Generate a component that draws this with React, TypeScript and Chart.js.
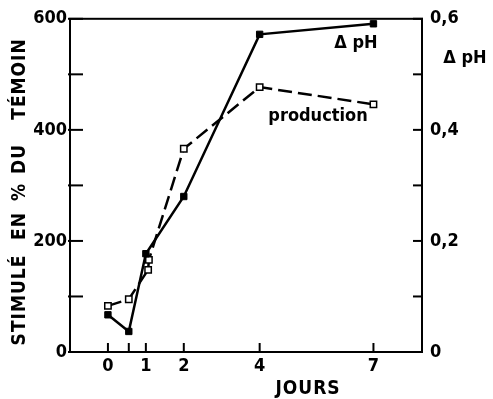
import React, { useEffect, useRef } from "react";
import { Chart, registerables } from "chart.js";

Chart.register(...registerables);

// Data
const phDays = [0, 0.55, 1, 2, 4, 7];
const deltaPH = [0.067, 0.037, 0.177, 0.28, 0.572, 0.591];
const prodDays = [0, 0.55, 1.06, 1.08, 2, 4, 7];
const production = [83, 95, 148, 166, 366, 477, 446];

const xTickLabels = [0, 1, 2, 4, 7];
const xTickMarks = [0, 0.55, 1, 2, 4, 7];
const leftTickMarks = [0, 100, 200, 300, 400, 500, 600];
const rightTickMarks = [0, 0.1, 0.2, 0.3, 0.4, 0.5, 0.6];
const yTitleWords = ["STIMULÉ", "EN", "%", "DU", "TÉMOIN"];

const FONT = '"DejaVu Sans Condensed", "DejaVu Sans", sans-serif';

const framePlugin = {
  id: "frame",
  afterDraw(chart: any) {
    const { ctx, chartArea, scales } = chart;
    const { left, right, top, bottom } = chartArea;
    ctx.save();
    ctx.strokeStyle = "#000";
    ctx.lineWidth = 2;
    ctx.strokeRect(left, top, right - left, bottom - top);
    ctx.lineWidth = 2;
    const line = (x1: number, y1: number, x2: number, y2: number) => {
      ctx.beginPath();
      ctx.moveTo(x1, y1);
      ctx.lineTo(x2, y2);
      ctx.stroke();
    };
    leftTickMarks.forEach((v) => {
      const y = scales.y.getPixelForValue(v);
      line(left - 2, y, left + 13, y);
    });
    rightTickMarks.forEach((v) => {
      const y = scales.y2.getPixelForValue(v);
      line(right - 9, y, right + 1, y);
    });
    xTickMarks.forEach((v) => {
      const x = scales.x.getPixelForValue(v);
      line(x, bottom, x, bottom - 9);
    });

    ctx.fillStyle = "#000";
    ctx.textAlign = "center";
    ctx.textBaseline = "middle";
    ctx.font = `bold 19px ${FONT}`;
    (ctx as any).letterSpacing = "1px";
    ctx.fillText("JOURS", 308, 389);
    (ctx as any).letterSpacing = "0px";
    ctx.font = `bold 18px ${FONT}`;
    ctx.fillText("Δ pH", 465, 58);
    ctx.fillText("Δ pH", 356, 43);
    ctx.fillText("production", 318, 116);

    // rotated y title, word by word
    const centers = [300, 226, 192, 159, 79];
    ctx.font = `bold 19px ${FONT}`;
    (ctx as any).letterSpacing = "1px";
    yTitleWords.forEach((w, i) => {
      ctx.save();
      ctx.translate(20, centers[i]);
      ctx.rotate(-Math.PI / 2);
      ctx.fillText(w, 0, 0);
      ctx.restore();
    });
    ctx.restore();
  },
};

export default function App() {
  const ref = useRef<HTMLCanvasElement>(null);
  useEffect(() => {
    if (!ref.current) return;
    const chart = new Chart(ref.current, {
      type: "line",
      data: {
        datasets: [
          {
            label: "Δ pH",
            data: phDays.map((d, i) => ({ x: d, y: deltaPH[i] })),
            yAxisID: "y2",
            borderColor: "#000",
            borderWidth: 2.5,
            backgroundColor: "#000",
            pointStyle: "rect",
            pointRadius: 4.5,
            pointBorderWidth: 1,
            pointBorderColor: "#000",
            pointBackgroundColor: "#000",
            clip: false as any,
          },
          {
            label: "production",
            data: prodDays.map((d, i) => ({ x: d, y: production[i] })),
            yAxisID: "y",
            borderColor: "#000",
            borderWidth: 2.5,
            borderDash: [14, 6],
            pointStyle: "rect",
            pointRadius: 4.5,
            pointBorderWidth: 1.5,
            pointBorderColor: "#000",
            pointBackgroundColor: "#fff",
            clip: false as any,
          },
        ],
      },
      options: {
        responsive: false,
        animation: false,
        layout: { padding: { top: 16, left: 0, right: 0, bottom: 0 } },
        plugins: {
          legend: { display: false },
          tooltip: { enabled: false },
        },
        scales: {
          x: {
            type: "linear",
            min: -1,
            max: 8.28,
            grid: { display: false, drawTicks: false },
            border: { display: false },
            afterBuildTicks: (s: any) => {
              s.ticks = xTickLabels.map((v) => ({ value: v }));
            },
            afterFit: (s: any) => {
              s.height = 47;
            },
            ticks: {
              color: "#000",
              font: { family: FONT, size: 18, weight: "bold" },
              padding: 4,
              maxRotation: 0,
              callback: (v: any) => String(v),
            },
          },
          y: {
            position: "left",
            min: 0,
            max: 600,
            grid: { display: false, drawTicks: false },
            border: { display: false },
            afterFit: (s: any) => {
              s.width = 70;
            },
            ticks: {
              stepSize: 200,
              color: "#000",
              font: { family: FONT, size: 18, weight: "bold" },
              padding: 3,
            },
          },
          y2: {
            position: "right",
            min: 0,
            max: 0.6,
            grid: { display: false, drawTicks: false },
            border: { display: false },
            afterFit: (s: any) => {
              s.width = 71;
            },
            ticks: {
              stepSize: 0.2,
              color: "#000",
              font: { family: FONT, size: 18, weight: "bold" },
              padding: 8,
              callback: (v: any) =>
                Number(v) === 0 ? "0" : Number(v).toFixed(1).replace(".", ","),
            },
          },
        },
      },
      plugins: [framePlugin],
    });
    return () => chart.destroy();
  }, []);
  return (
    <div style={{ position: "absolute", left: 0, top: 0, width: 493, height: 399, background: "#fff" }}>
      <canvas ref={ref} width={493} height={399} style={{ width: 493, height: 399 }} />
    </div>
  );
}
